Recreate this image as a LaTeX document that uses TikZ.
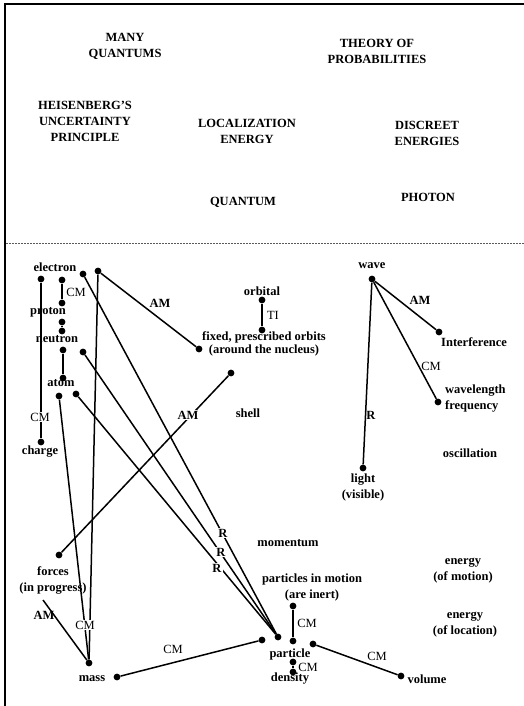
\documentclass[tikz,border=0pt]{standalone}
\usepackage{fontspec}
\setmainfont{Liberation Serif}
\newcommand{\tx}{\fontsize{12.5}{16}\selectfont}

\begin{document}
\begin{tikzpicture}[x=1pt,y=-1pt,
   concept/.style={font=\tx\bfseries,align=center,inner sep=0pt},
   jnt/.style={circle,fill=black,inner sep=0pt,minimum size=6.8pt},
   lbl/.style={font=\tx,inner sep=1pt},
   lblb/.style={font=\tx\bfseries,inner sep=1pt},
   cut/.style={fill=white},
   link/.style={line width=1.5pt}]
   \useasboundingbox (0,0) rectangle (524,706);
   \draw[line width=2pt] (5,706) -- (5,4) -- (524,4);
   \draw[black!65,line width=0.8pt,dash pattern=on 2pt off 1pt] (6,243) -- (524,243);

   \node[concept] (many)     at (125,46)  {MANY\\QUANTUMS};
   \node[concept] (theory)   at (377,51)  {THEORY OF\\PROBABILITIES};
   \node[concept] (heis)     at (85,121)  {HEISENBERG'S\\UNCERTAINTY\\PRINCIPLE};
   \node[concept] (local)    at (247,131) {LOCALIZATION\\ENERGY};
   \node[concept] (discreet) at (427,133) {DISCREET\\ENERGIES};
   \node[concept] (quantum)  at (243,202) {QUANTUM};
   \node[concept] (photon)   at (428,197) {PHOTON};

   \node[concept] (electron) at (55,267)  {electron};
   \node[concept] (proton)   at (48,312)  {proton};
   \node[concept] (neutron)  at (57,339)  {neutron};
   \node[concept] (atom)     at (61,383)  {atom};
   \node[concept] (charge)   at (40,452)  {charge};
   \node[concept] (orbital)  at (262,291) {orbital};
   \node[concept,font=\fontsize{12.5}{13.5}\selectfont\bfseries] (fixed) at (264,344) {fixed, prescribed orbits\\(around the nucleus)};
   \node[concept] (shell)    at (248,413) {shell};
   \node[concept] (wave)     at (372,266) {wave};
   \node[concept,anchor=west] (interf) at (441,342) {Interference};
   \node[concept,anchor=west,align=left] (wavelen) at (445,399) {wavelength\\frequency};
   \node[concept] (oscill)   at (470,453) {oscillation};
   \node[concept] (light)    at (363,487) {light\\(visible)};
   \node[concept] (forces)   at (53,580)  {forces\\(in progress)};
   \node[concept] (momentum) at (288,543) {momentum};
   \node[concept] (motion)   at (312,587) {particles in motion\\(are inert)};
   \node[concept] (particle) at (290,654) {particle};
   \node[concept] (density)  at (290,679) {density};
   \node[concept] (mass)     at (92,679)  {mass};
   \node[concept] (volume)   at (427,679) {volume};
   \node[concept] (enmotion) at (463,571) {energy\\(of motion)};
   \node[concept] (enloc)    at (465,625) {energy\\(of location)};

   \node[jnt] (e1) at (41,279) {};
   \node[jnt] (e2) at (62,280) {};
   \node[jnt] (e3) at (83,274) {};
   \node[jnt] (e4) at (98,271) {};
   \node[jnt] (p1) at (62,303) {};
   \node[jnt] (p2) at (62,322) {};
   \node[jnt] (n1) at (62,331) {};
   \node[jnt] (n2) at (63,350) {};
   \node[jnt] (n3) at (83,352) {};
   \node[jnt] (a1) at (63,378) {};
   \node[jnt] (a2) at (59,396) {};
   \node[jnt] (a3) at (76,394) {};
   \node[jnt] (ch) at (41,442) {};
   \node[jnt] (or1) at (262,300) {};
   \node[jnt] (or2) at (262,330) {};
   \node[jnt] (fx1) at (199,349) {};
   \node[jnt] (fx2) at (231,373) {};
   \node[jnt] (w1) at (372,279) {};
   \node[jnt] (in1) at (439,332) {};
   \node[jnt] (wl1) at (438,402) {};
   \node[jnt] (li1) at (363,468) {};
   \node[jnt] (fo1) at (59,555) {};
   \coordinate (fo2) at (43,600);
   \node[jnt] (ma1) at (89,663) {};
   \node[jnt] (ma2) at (117,677) {};
   \node[jnt] (pa1) at (262,640) {};
   \node[jnt] (pa2) at (278,637) {};
   \node[jnt] (pa3) at (293,641) {};
   \node[jnt] (pa4) at (313,644) {};
   \node[jnt] (pa5) at (293,662) {};
   \node[jnt] (mo1) at (293,606) {};
   \node[jnt] (de1) at (293,672) {};
   \node[jnt] (vo1) at (401,676) {};

   \draw[link] (e1) -- (ch);
   \draw[link] (e2) -- (p1);
   \draw[link] (p2) -- (n1);
   \draw[link] (n2) -- (a1);
   \draw[link] (e4) -- (fx1);
   \draw[link] (or1) -- (or2);
   \draw[link] (fx2) -- (fo1);
   \draw[link] (e3) -- (pa2);
   \draw[link] (n3) -- (pa2);
   \draw[link] (a3) -- (pa2);
   \draw[link] (e4) -- (ma1);
   \draw[link] (a2) -- (ma1);
   \draw[link] (fo2) -- (ma1);
   \draw[link] (ma2) -- (pa1);
   \draw[link] (mo1) -- (pa3);
   \draw[link] (pa5) -- (de1);
   \draw[link] (pa4) -- (vo1);
   \draw[link] (w1) -- (in1);
   \draw[link] (w1) -- (wl1);
   \draw[link] (w1) -- (li1);

   \node[lbl,cut]  (l1)  at (40,417)  {CM};
   \node[lbl]      (l2)  at (76,292)  {CM};
   \node[lblb]     (l3)  at (160,303) {AM};
   \node[lbl]      (l4)  at (273,315) {TI};
   \node[lblb,cut] (l5)  at (188,415) {AM};
   \node[lblb,cut] (l6)  at (223,533) {R};
   \node[lblb,cut] (l7)  at (221,552) {R};
   \node[lblb,cut] (l8)  at (217,568) {R};
   \node[lbl,cut]  (l9)  at (85,625)  {CM};
   \node[lblb]     (l10) at (44,615)  {AM};
   \node[lbl]      (l11) at (173,649) {CM};
   \node[lbl]      (l12) at (307,623) {CM};
   \node[lbl]      (l13) at (308,667) {CM};
   \node[lbl]      (l14) at (377,656) {CM};
   \node[lblb]     (l15) at (420,300) {AM};
   \node[lbl]      (l16) at (431,366) {CM};
   \node[lblb]     (l17) at (371,415) {R};
  \end{tikzpicture}
\end{document}
